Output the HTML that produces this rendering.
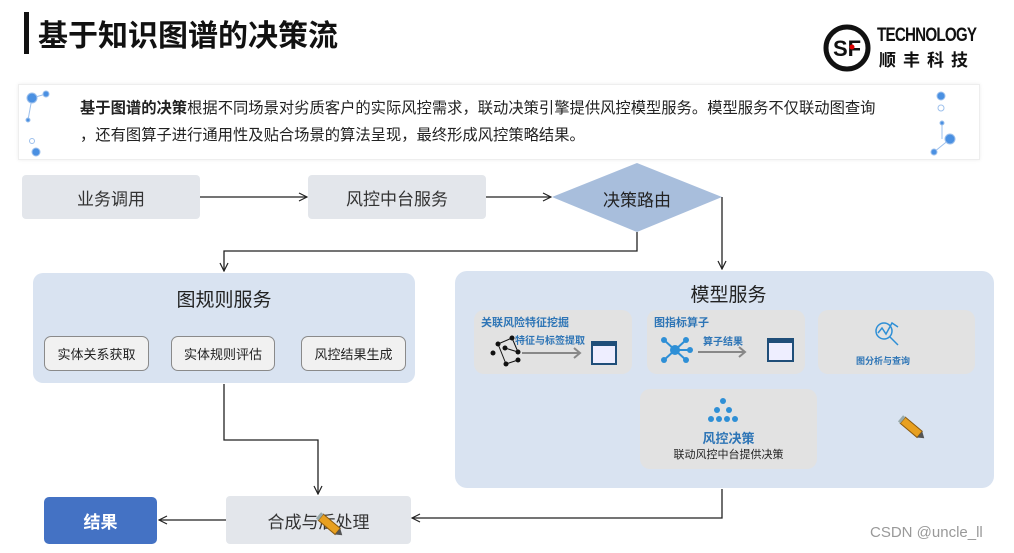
<!DOCTYPE html>
<html><head><meta charset="utf-8"><style>
body{margin:0;width:1014px;height:553px;background:#fff;position:relative;overflow:hidden;font-family:"Liberation Sans","Noto Sans CJK SC",sans-serif;color:#222}
.a{position:absolute}
.box{position:absolute;display:flex;align-items:center;justify-content:center;box-sizing:border-box}
.g{background:#e3e6eb;border-radius:4px;font-size:17px;color:#333}
.card{background:#e2e2e2;border-radius:10px;position:absolute}
.sb{background:#f1f1f1;border:1px solid #8a8a8a;border-radius:7px;font-size:13px;color:#222}
.bl{color:#2e75b6;font-weight:bold}
</style></head><body>
<div class="a" style="left:24px;top:12px;width:5px;height:42px;background:#111"></div>
<div class="a" style="left:38px;top:11px;font-size:30px;font-weight:bold;color:#111">基于知识图谱的决策流</div>
<svg class="a" style="left:822px;top:23px" width="50" height="50"><circle cx="25" cy="25" r="21" fill="none" stroke="#111" stroke-width="5"/><text x="25" y="33" text-anchor="middle" font-size="22" font-weight="bold" fill="#111" font-family="Liberation Sans">SF</text><circle cx="30" cy="24" r="2.5" fill="#d00"/></svg>
<div class="a" style="left:877px;top:25px;font-size:19px;font-weight:bold;color:#111;letter-spacing:-1px;transform:scaleX(0.8);transform-origin:left">TECHNOLOGY</div>
<div class="a" style="left:879px;top:46px;font-size:17px;font-weight:bold;color:#111;letter-spacing:7px">顺丰科技</div>

<div class="a" style="left:18px;top:84px;width:960px;height:74px;border:1px solid #eee;box-shadow:0 0 4px #eee"></div>
<svg class="a" style="left:18px;top:84px" width="960" height="76">
<g fill="#4a90e2" stroke="#9dc0ec"><line x1="14" y1="14" x2="28" y2="10"/><line x1="14" y1="14" x2="10" y2="36"/><circle cx="14" cy="14" r="5"/><circle cx="28" cy="10" r="3"/><circle cx="10" cy="36" r="2"/><circle cx="14" cy="57" r="2.5" fill="none"/><circle cx="18" cy="68" r="4"/>
<circle cx="923" cy="12" r="4"/><circle cx="923" cy="24" r="3" fill="none"/><line x1="924" y1="39" x2="924" y2="55"/><circle cx="924" cy="39" r="2"/><line x1="932" y1="55" x2="916" y2="68"/><circle cx="932" cy="55" r="5"/><circle cx="916" cy="68" r="3"/></g></svg>
<div class="a" style="left:80px;top:95px;font-size:15.3px;line-height:27px;color:#222;width:860px"><b>基于图谱的决策</b>根据不同场景对劣质客户的实际风控需求，联动决策引擎提供风控模型服务。模型服务不仅联动图查询<br>，还有图算子进行通用性及贴合场景的算法呈现，最终形成风控策略结果。</div>

<div class="box g" style="left:22px;top:175px;width:178px;height:44px">业务调用</div>
<div class="box g" style="left:308px;top:175px;width:178px;height:44px">风控中台服务</div>
<svg class="a" style="left:0;top:0" width="1014" height="553">
<defs><marker id="m" markerWidth="10" markerHeight="10" refX="9" refY="5" orient="auto" markerUnits="userSpaceOnUse"><path d="M1,1 L9,5 L1,9" fill="none" stroke="#222" stroke-width="1.2"/></marker></defs>
<polygon points="552,197 637,163 722,197 637,232" fill="#a8bedc"/>
<g stroke="#222" stroke-width="1.3" fill="none">
<line x1="200" y1="197" x2="307" y2="197" marker-end="url(#m)"/>
<line x1="486" y1="197" x2="551" y2="197" marker-end="url(#m)"/>
<polyline points="637,232 637,251 224,251 224,271" marker-end="url(#m)"/>
<polyline points="722,197 722,269" marker-end="url(#m)"/>
<polyline points="224,384 224,440 318,440 318,494" marker-end="url(#m)"/>
<polyline points="722,489 722,518 412,518" marker-end="url(#m)"/>
<line x1="226" y1="520" x2="159" y2="520" marker-end="url(#m)"/>
</g></svg>
<div class="a" style="left:552px;top:186px;width:170px;text-align:center;font-size:17px;color:#222">决策路由</div>

<div class="a" style="left:33px;top:273px;width:382px;height:110px;background:#d9e3f1;border-radius:10px"></div>
<div class="a" style="left:33px;top:285px;width:382px;text-align:center;font-size:19px">图规则服务</div>
<div class="box sb" style="left:44px;top:336px;width:105px;height:35px">实体关系获取</div>
<div class="box sb" style="left:171px;top:336px;width:104px;height:35px">实体规则评估</div>
<div class="box sb" style="left:301px;top:336px;width:105px;height:35px">风控结果生成</div>

<div class="a" style="left:455px;top:271px;width:539px;height:217px;background:#d9e3f1;border-radius:12px"></div>
<div class="a" style="left:640px;top:280px;width:177px;text-align:center;font-size:19px">模型服务</div>
<div class="card" style="left:474px;top:310px;width:158px;height:64px"></div>
<div class="card" style="left:647px;top:310px;width:158px;height:64px"></div>
<div class="card" style="left:818px;top:310px;width:157px;height:64px"></div>
<div class="card" style="left:640px;top:389px;width:177px;height:80px"></div>
<div class="a bl" style="left:481px;top:314px;font-size:11px">关联风险特征挖掘</div>
<div class="a bl" style="left:515px;top:332px;font-size:10px">特征与标签提取</div>
<div class="a bl" style="left:654px;top:314px;font-size:11px">图指标算子</div>
<div class="a bl" style="left:703px;top:333px;font-size:10px">算子结果</div>
<div class="a bl" style="left:856px;top:354px;font-size:9px">图分析与查询</div>
<div class="a bl" style="left:640px;top:428px;width:177px;text-align:center;font-size:13px">风控决策</div>
<div class="a" style="left:640px;top:446px;width:177px;text-align:center;font-size:11px;color:#222">联动风控中台提供决策</div>
<svg class="a" style="left:0;top:0" width="1014" height="553">
<g stroke="#111" stroke-width="1"><line x1="498" y1="344" x2="512" y2="338"/><line x1="512" y1="338" x2="518" y2="352"/><line x1="498" y1="344" x2="506" y2="364"/><line x1="506" y1="364" x2="518" y2="360"/><line x1="505" y1="348" x2="518" y2="352"/></g>
<g fill="#111"><circle cx="498" cy="344" r="2.5"/><circle cx="512" cy="338" r="2.5"/><circle cx="518" cy="352" r="2.5"/><circle cx="506" cy="364" r="2.5"/><circle cx="518" cy="360" r="2.5"/><circle cx="505" cy="348" r="2.5"/><circle cx="493" cy="353" r="2.5"/></g>
<g stroke="#888" stroke-width="2"><line x1="522" y1="353" x2="580" y2="353"/><polyline points="574,348 580,353 574,358" fill="none"/><line x1="698" y1="352" x2="745" y2="352"/><polyline points="739,347 745,352 739,357" fill="none"/></g>
<g fill="#eef" stroke="#1f4e79" stroke-width="2"><rect x="592" y="342" width="24" height="22"/><rect x="768" y="339" width="25" height="22"/></g>
<g fill="#1f4e79"><rect x="592" y="342" width="24" height="4"/><rect x="768" y="339" width="25" height="4"/></g>
<g stroke="#2e8fd6" stroke-width="2"><line x1="675" y1="350" x2="664" y2="340"/><line x1="675" y1="350" x2="686" y2="340"/><line x1="675" y1="350" x2="664" y2="360"/><line x1="675" y1="350" x2="686" y2="360"/><line x1="675" y1="350" x2="690" y2="350"/></g>
<g fill="#2e8fd6"><circle cx="675" cy="350" r="5"/><circle cx="664" cy="340" r="3"/><circle cx="686" cy="340" r="3"/><circle cx="664" cy="360" r="3"/><circle cx="686" cy="360" r="3"/><circle cx="690" cy="350" r="3"/>
<circle cx="723" cy="401" r="3"/><circle cx="717" cy="410" r="3"/><circle cx="729" cy="410" r="3"/><circle cx="711" cy="419" r="3"/><circle cx="719" cy="419" r="3"/><circle cx="727" cy="419" r="3"/><circle cx="735" cy="419" r="3"/></g>
<g stroke="#2e8fd6" fill="none" stroke-width="1.5"><circle cx="884" cy="331" r="8"/><line x1="890" y1="337" x2="898" y2="345"/><polyline points="878,333 882,328 886,334 892,323 898,327"/></g>
<g transform="translate(912,428) rotate(40)"><rect x="-12" y="-4" width="22" height="8" fill="#e8a020" stroke="#8a5a10"/><polygon points="10,-4 16,0 10,4" fill="#555"/><rect x="-15" y="-4" width="3" height="8" fill="#9aa"/></g>
</svg>

<div class="box g" style="left:226px;top:496px;width:185px;height:48px;font-size:17px">合成与后处理</div>
<div class="box" style="left:44px;top:497px;width:113px;height:47px;background:#4472c4;border-radius:5px;color:#fff;font-weight:bold;font-size:17px">结果</div>
<svg class="a" style="left:300px;top:508px" width="50" height="30"><g transform="translate(30,17) rotate(40)"><rect x="-12" y="-4" width="22" height="8" fill="#e8a020" stroke="#8a5a10"/><polygon points="10,-4 16,0 10,4" fill="#555"/><rect x="-15" y="-4" width="3" height="8" fill="#9aa"/></g></svg>
<div class="a" style="left:870px;top:524px;font-size:15px;color:#999">CSDN @uncle_ll</div>
</body></html>
